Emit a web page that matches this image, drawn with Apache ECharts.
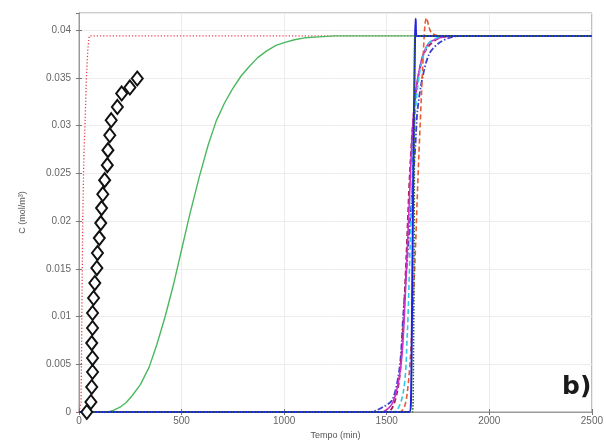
<!DOCTYPE html>
<html>
<head>
<meta charset="utf-8">
<script src="https://cdn.jsdelivr.net/npm/echarts@6/dist/echarts.min.js"></script>
<style>
  html, body { margin: 0; padding: 0; background: #fff; }
  #chart { width: 606px; height: 445px; }
</style>
</head>
<body>
<div id="chart"></div>
<script>
// tick labels
var xTicks = [0, 500, 1000, 1500, 2000, 2500];
var yTicks = [0, 0.005, 0.01, 0.015, 0.02, 0.025, 0.03, 0.035, 0.04];

// experimental points (diamonds) [tempo, C]
var expPts = [
  [38, 0], [58, 0.00105], [62, 0.00262], [66, 0.00419], [66, 0.00565], [62, 0.00722],
  [66, 0.0088], [66, 0.01037], [71, 0.01194], [77, 0.01351], [87, 0.01508],
  [90, 0.01665], [99, 0.01822], [106, 0.01979], [110, 0.02136], [116, 0.02282],
  [125, 0.02429], [138, 0.02586], [141, 0.02743], [150, 0.029], [157, 0.03057],
  [187, 0.03196], [208, 0.03337], [248, 0.034], [284, 0.03494]
];

// model curves [tempo, C]
var redDotted = [[0, 0], [10, 0.001], [14, 0.01], [18, 0.02], [24, 0.027], [29, 0.03],
  [36, 0.035], [43, 0.038], [50, 0.0394], [2500, 0.0394]];
var greenSolid = [[0, 0], [140, 0], [170, 0.0002], [200, 0.0005], [230, 0.0010], [259, 0.0017],
  [300, 0.0029], [342, 0.0047], [380, 0.0071], [420, 0.0100], [460, 0.0133], [500, 0.0170],
  [540, 0.0207], [586, 0.0246], [630, 0.0280], [669, 0.0305], [710, 0.0324], [747, 0.0338],
  [790, 0.0352], [830, 0.0362], [870, 0.0371], [913, 0.0378], [960, 0.0384], [1000, 0.0387],
  [1050, 0.0390], [1100, 0.0392], [1170, 0.0393], [1250, 0.0394], [2500, 0.0394]];
var blueDashDot = [[0, 0], [1416, 0], [1480, 0.0005], [1528, 0.0013], [1563, 0.0047],
  [1580, 0.010], [1600, 0.016], [1621, 0.0222], [1640, 0.028], [1650, 0.0316],
  [1675, 0.0351], [1709, 0.0376], [1758, 0.0387], [1821, 0.0393], [1890, 0.0394], [2500, 0.0394]];
var darkRedDash = [[0, 0], [1500, 0], [1550, 0.002], [1575, 0.007], [1595, 0.016],
  [1615, 0.026], [1640, 0.033], [1680, 0.0375], [1740, 0.039], [1820, 0.0394], [2500, 0.0394]];
var magentaSolid = [[0, 0], [1470, 0], [1530, 0.001], [1570, 0.005], [1590, 0.012],
  [1610, 0.022], [1630, 0.031], [1660, 0.036], [1700, 0.0385], [1760, 0.0392], [1850, 0.0394], [2500, 0.0394]];
var cyanDash = [[0, 0], [1530, 0], [1580, 0.002], [1600, 0.008], [1615, 0.018],
  [1635, 0.030], [1660, 0.0355], [1700, 0.0385], [1760, 0.0393], [1820, 0.0394], [2500, 0.0394]];
var orangeDash = [[0, 0], [1560, 0], [1600, 0.002], [1630, 0.012], [1655, 0.026],
  [1675, 0.036], [1686, 0.0405], [1694, 0.0413], [1705, 0.0404], [1719, 0.0397], [1760, 0.0394], [2500, 0.0394]];
var blueSolid = [[0, 0], [1610, 0], [1618, 0.001], [1625, 0.015], [1632, 0.03],
  [1638, 0.039], [1641, 0.0412], [1645, 0.0394], [2500, 0.0394]];
var greenDotted = [[0, 0], [1625, 0], [1630, 0.005], [1634, 0.02], [1636, 0.039], [1640, 0.0394], [2500, 0.0394]];

var chart = echarts.init(document.getElementById('chart'));

function curve(name, data, color, width, type, smooth) {
  return {
    name: name,
    type: 'line',
    data: data,
    showSymbol: false,
    smooth: smooth,
    animation: false,
    lineStyle: { color: color, width: width, type: type }
  };
}

var axisTxt = { color: '#666', fontSize: 10, fontFamily: 'Liberation Sans' };

var option = {
  animation: false,
  grid: { left: 79, right: 12, top: 13, bottom: 33, show: true, borderColor: '#9a9a9a', borderWidth: 1 },
  xAxis: [{
    type: 'value', min: 0, max: 2500, interval: 500,
    name: 'Tempo (min)', nameLocation: 'middle', nameGap: 14,
    nameTextStyle: { color: '#555', fontSize: 9, fontFamily: 'Liberation Sans' },
    axisLine: { lineStyle: { color: '#9a9a9a' } },
    axisTick: { inside: true, length: 3, lineStyle: { color: '#777' } },
    axisLabel: Object.assign({ margin: 4,
      formatter: function (v) { return xTicks.indexOf(v) >= 0 ? String(v) : ''; } }, axisTxt),
    splitLine: { lineStyle: { color: '#ececec' } }
  }, {
    type: 'value', min: 0, max: 2500, interval: 500, position: 'top',
    axisLine: { lineStyle: { color: '#9a9a9a' } },
    axisTick: { inside: true, length: 3, lineStyle: { color: '#777' } },
    axisLabel: { show: false }, splitLine: { show: false }
  }],
  yAxis: [{
    type: 'value', min: 0, max: 0.0418, interval: 0.005,
    name: 'C (mol/m³)', nameLocation: 'middle', nameGap: 52, nameRotate: 90,
    nameTextStyle: { color: '#555', fontSize: 9, fontFamily: 'Liberation Sans' },
    axisLine: { show: true, lineStyle: { color: '#9a9a9a' } },
    axisTick: { show: true, inside: true, length: 3, lineStyle: { color: '#777' } },
    axisLabel: Object.assign({ margin: 8, showMaxLabel: false,
      formatter: function (v) { return yTicks.indexOf(+v.toFixed(3)) >= 0 ? String(+v.toFixed(3)) : ''; } }, axisTxt),
    splitLine: { lineStyle: { color: '#ececec' } }
  }, {
    type: 'value', min: 0, max: 0.0418, interval: 0.005, position: 'right',
    axisLine: { show: true, lineStyle: { color: '#9a9a9a' } },
    axisTick: { show: true, inside: true, length: 3, lineStyle: { color: '#777' } },
    axisLabel: { show: false }, splitLine: { show: false }
  }],
  graphic: [{
    type: 'text', left: 562, top: 375,
    style: { text: 'b)', font: 'bold 25px "DejaVu Sans"', fill: '#1a1a1a' }
  }],
  series: [
    curve('red dotted', redDotted, '#e8404a', 1.3, [1.2, 2], false),
    curve('green', greenSolid, '#4cb860', 1.4, 'solid', false),
    {
      name: 'exp', type: 'line', data: expPts, animation: false,
      symbol: 'diamond', symbolSize: [11, 14],
      lineStyle: { width: 0 },
      itemStyle: { color: '#fff', borderColor: '#111', borderWidth: 2 }
    },
    curve('blue dash-dot', blueDashDot, '#4040d0', 1.8, [6, 2, 1.5, 2], 0.3),
    curve('dark red dash', darkRedDash, '#9a2050', 1.8, [5, 3], 0.3),
    curve('magenta', magentaSolid, '#d030c8', 1.6, 'solid', 0.3),
    curve('cyan dash', cyanDash, '#30c8e8', 1.6, [5, 3], 0.3),
    curve('orange dash', orangeDash, '#e85a30', 1.6, [5, 3], 0.3),
    curve('blue', blueSolid, '#2020e0', 2, 'solid', 0.3),
    curve('green dotted', greenDotted, '#2f6b2f', 1.6, [1.5, 1.5], 0.3)
  ]
};

chart.setOption(option);
</script>
</body>
</html>
